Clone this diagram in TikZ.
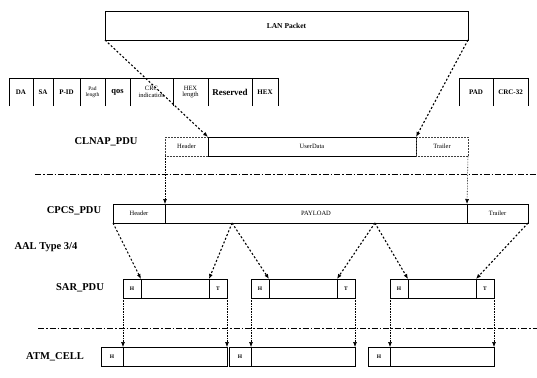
\documentclass[tikz,border=0pt]{standalone}
\usepackage{fontspec}
\setmainfont{Liberation Serif}
\usetikzlibrary{arrows.meta,positioning,calc}
\tikzset{
  seg/.style={draw,line width=0.8pt,minimum height=19pt,inner sep=0pt,outer sep=0pt,%
    font=\fontsize{6.5}{7}\selectfont},
  ghost/.style={seg,draw=black!75,line width=0.5pt,densely dotted},
  fld/.style={minimum height=28pt,inner sep=0pt,outer sep=0pt,align=center,%
    font=\fontsize{7}{6}\selectfont\bfseries},
  lvl/.style={font=\fontsize{10.5}{11}\selectfont\bfseries},
  map/.style={-{Latex[length=5pt,width=4pt]},line width=1.1pt,dash pattern=on 2pt off 2pt},
  drop/.style={-{Latex[length=5pt,width=4pt]},line width=0.6pt,densely dotted},
  layer/.style={line width=0.9pt,dash pattern=on 6pt off 2pt on 1.5pt off 2pt},
}
\begin{document}
\begin{tikzpicture}[x=1pt,y=-1pt]
\useasboundingbox (0,0) rectangle (537,377);
% LAN packet and its fields
\node[seg,anchor=north west,minimum width=363pt,minimum height=29pt,%
  font=\fontsize{7.5}{8}\selectfont\bfseries] (lan) at (105,11) {LAN Packet};
\node[fld,anchor=north west,minimum width=24pt] (da) at (9,78) {DA};
\node[fld,right=0pt of da,minimum width=20pt] (sa) {SA};
\node[fld,right=0pt of sa,minimum width=27pt] (pid) {P-ID};
\node[fld,right=0pt of pid,minimum width=25pt,font=\fontsize{5.5}{5.5}\selectfont] (padl) {Pad\\length};
\node[fld,right=0pt of padl,minimum width=25pt,font=\fontsize{8.5}{8}\selectfont\bfseries] (qos) {qos};
\node[fld,right=0pt of qos,minimum width=43pt,font=\fontsize{6.5}{6.5}\selectfont] (crci) {CRC\\indication};
\node[fld,right=0pt of crci,minimum width=35pt,font=\fontsize{6.5}{6.5}\selectfont] (hexl) {HEX\\length};
\node[fld,right=0pt of hexl,minimum width=44pt,font=\fontsize{9}{9}\selectfont\bfseries] (resv) {Reserved};
\node[fld,right=0pt of resv,minimum width=26pt] (hex) {HEX};
\node[fld,anchor=north west,minimum width=34pt] (pad) at (459,78) {PAD};
\node[fld,right=0pt of pad,minimum width=35pt] (crc) {CRC-32};
\foreach \f in {da,sa,pid,padl,qos,crci,hexl,resv,hex,pad,crc}
  \draw[line width=0.8pt] (\f.south west) -- (\f.north west) -- (\f.north east);
\draw[line width=0.8pt] (hex.north east) -- (hex.south east);
\draw[line width=0.8pt] (crc.north east) -- (crc.south east);

% CLNAP_PDU
\node[lvl] (clnaplbl) at (106,142) {CLNAP\_PDU};
\node[ghost,anchor=north west,minimum width=43pt] (clhdr) at (165,137) {Header};
\node[seg,right=0pt of clhdr,minimum width=208pt] (cldat) {UserData};
\node[ghost,right=0pt of cldat,minimum width=52pt] (cltrl) {Trailer};
\draw[map] (lan.south west) -- (clhdr.north east);
\draw[map] (lan.south east) -- (cltrl.north west);

\draw[layer] (35,174) -- (537,174);

% CPCS_PDU
\node[lvl] (cpcslbl) at (74,211) {CPCS\_PDU};
\node[seg,anchor=north west,minimum width=52pt] (cphdr) at (113,204) {Header};
\node[seg,right=0pt of cphdr,minimum width=302pt] (cppay) {PAYLOAD};
\node[seg,right=0pt of cppay,minimum width=61pt] (cptrl) {Trailer};
\draw[drop] (clhdr.south west) -- (cphdr.north east);
\draw[drop] (cltrl.south east) -- (cptrl.north west);
\coordinate (splita) at ($(cppay.south west)!0.222!(cppay.south east)$);
\coordinate (splitb) at ($(cppay.south west)!0.695!(cppay.south east)$);

\node[lvl,anchor=west] (aallbl) at (11,247) {AAL Type 3/4};

% SAR_PDU and ATM_CELL
\node[lvl] (sarlbl) at (80,288) {SAR\_PDU};
\node[lvl] (atmlbl) at (55,357) {ATM\_CELL};
\foreach \i/\x/\c in {1/123/101,2/251/229,3/390/368}{
  \node[seg,anchor=north west,minimum width=18pt,font=\fontsize{5.5}{5}\selectfont\bfseries] (sarh\i) at (\x,279) {H};
  \node[seg,right=0pt of sarh\i,minimum width=68pt] (sarm\i) {};
  \node[seg,right=0pt of sarm\i,minimum width=18pt,font=\fontsize{5.5}{5}\selectfont\bfseries] (sart\i) {T};
  \node[seg,anchor=north west,minimum width=22pt,font=\fontsize{5.5}{5}\selectfont\bfseries] (atmh\i) at (\c,347) {H};
  \node[seg,right=0pt of atmh\i,minimum width=104pt] (atmp\i) {};
  \draw[drop] (sarh\i.south west) -- (atmh\i.north east);
  \draw[drop] (sart\i.south east) -- (atmp\i.north east);
}
\draw[map] (cphdr.south west) -- (sarh1.north east);
\draw[map] (splita) -- (sart1.north west);
\draw[map] (splita) -- (sarh2.north east);
\draw[map] (splitb) -- (sart2.north west);
\draw[map] (splitb) -- (sarh3.north east);
\draw[map] (cptrl.south east) -- (sart3.north west);

\draw[layer] (38,328) -- (537,328);
\end{tikzpicture}
\end{document}
